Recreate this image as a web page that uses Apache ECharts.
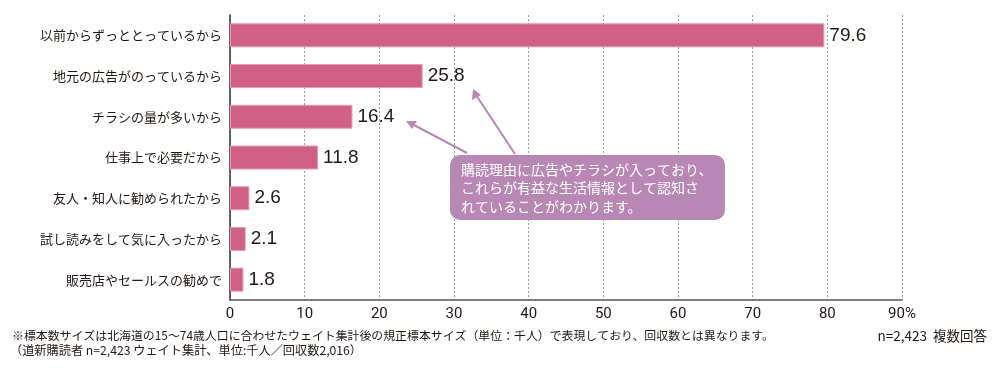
<!DOCTYPE html>
<html>
<head>
<meta charset="utf-8">
<script src="https://cdn.jsdelivr.net/npm/echarts@6/dist/echarts.min.js"></script>
<style>
  html, body { margin: 0; padding: 0; background: #fff; }
  #main { width: 1000px; height: 376px; }
</style>
</head>
<body>
<div id="main"></div>
<script>
// 購読理由（上から順）
var reasons = [
  '以前からずっととっているから',
  '地元の広告がのっているから',
  'チラシの量が多いから',
  '仕事上で必要だから',
  '友人・知人に勧められたから',
  '試し読みをして気に入ったから',
  '販売店やセールスの勧めで'
];
var shares = [79.6, 25.8, 16.4, 11.8, 2.6, 2.1, 1.8];
var tickMax = 90;

var noteLines = [
  '購読理由に広告やチラシが入っており、',
  'これらが有益な生活情報として認知さ',
  'れていることがわかります。'
];
var footnote1 = '※標本数サイズは北海道の15〜74歳人口に合わせたウェイト集計後の規正標本サイズ（単位：千人）で表現しており、回収数とは異なります。';
var footnote2 = '（道新購読者 n=2,423 ウェイト集計、単位:千人／回収数2,016）';
var sampleNote = 'n=2,423  複数回答';

var font = '"Noto Sans CJK JP", "Noto Sans", sans-serif';
var purple = '#b987b5';

var chart = echarts.init(document.getElementById('main'));

var option = {
  animation: false,
  backgroundColor: '#fff',
  grid: { left: 230, right: 98, top: 15, bottom: 76 },
  xAxis: {
    type: 'value',
    min: 0,
    max: tickMax,
    interval: 10,
    axisLine: { show: true, lineStyle: { color: '#555', width: 1.5 } },
    axisTick: { show: false },
    axisLabel: {
      color: '#231815',
      fontSize: 15,
      fontFamily: 'Roboto, sans-serif',
      margin: 7,
      formatter: function (v) { return v === tickMax ? v + '%' : v; }
    },
    splitLine: { show: true, lineStyle: { color: '#999', type: [2, 2], width: 1 } }
  },
  yAxis: {
    type: 'category',
    inverse: true,
    data: reasons,
    axisLine: { show: true, lineStyle: { color: '#333', width: 1.5 } },
    axisTick: { show: false },
    axisLabel: { color: '#231815', fontSize: 13, fontFamily: font, margin: 8 }
  },
  series: [{
    type: 'bar',
    data: shares,
    barWidth: 24,
    itemStyle: { color: '#d06085', borderColor: '#e79bb3', borderWidth: 1 },
    label: {
      show: true,
      position: 'right',
      distance: 5,
      color: '#231815',
      fontSize: 19,
      fontFamily: 'Liberation Sans, sans-serif',
      formatter: function (p) { return p.value.toFixed(1); }
    }
  }],
  graphic: [
    // 矢印
    { type: 'line', shape: { x1: 467, y1: 153, x2: 412, y2: 124 }, style: { stroke: purple, lineWidth: 2 } },
    { type: 'polygon', shape: { points: [[406, 121], [417, 121], [412, 129]] }, style: { fill: purple } },
    { type: 'line', shape: { x1: 515, y1: 154, x2: 476, y2: 95 }, style: { stroke: purple, lineWidth: 2 } },
    { type: 'polygon', shape: { points: [[473, 89], [472, 100], [481, 95]] }, style: { fill: purple } },
    // 吹き出し
    { type: 'rect', shape: { x: 450, y: 155, width: 275, height: 65, r: 10 }, style: { fill: purple } },
    { type: 'text', x: 461, y: 160, style: { text: noteLines.join('\n'), fill: '#fff', font: '14px ' + font, lineHeight: 18.5 } },
    // 注記
    { type: 'text', x: 12, y: 330, style: { text: footnote1, fill: '#231815', font: '11.9px ' + font } },
    { type: 'text', x: 10, y: 344, style: { text: footnote2, fill: '#231815', font: '12.2px ' + font } },
    { type: 'text', x: 987, y: 329, style: { text: sampleNote, fill: '#231815', font: '13.5px ' + font, align: 'right' } }
  ]
};

chart.setOption(option);
</script>
</body>
</html>
